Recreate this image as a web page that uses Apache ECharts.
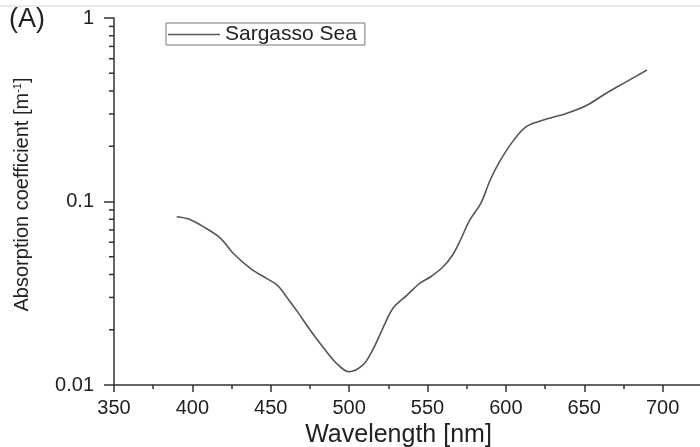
<!DOCTYPE html>
<html>
<head>
<meta charset="utf-8">
<script src="https://cdn.jsdelivr.net/npm/echarts@6/dist/echarts.min.js"></script>
<style>html,body{margin:0;padding:0;background:#fff}#c{width:700px;height:447px}</style>
</head>
<body>
<div id="c"></div>
<script>
var seriesName = 'Sargasso Sea';
var wavelength = [390, 398, 407, 418, 426, 437, 447, 454, 460, 467, 475, 484, 492, 500, 509, 515, 522, 528, 537, 545, 552, 560, 566, 571, 577, 584, 590, 596, 605, 613, 624, 639, 652, 664, 677, 690];
var absorption = [0.0826, 0.080, 0.0729, 0.0630, 0.0522, 0.0432, 0.0382, 0.0351, 0.0303, 0.0251, 0.0200, 0.0158, 0.0131, 0.0118, 0.0129, 0.0155, 0.0208, 0.0262, 0.0309, 0.0358, 0.0389, 0.0441, 0.0511, 0.0617, 0.0793, 0.0977, 0.131, 0.165, 0.216, 0.256, 0.278, 0.303, 0.336, 0.389, 0.450, 0.521];
var yMinorTickValues = [0.02, 0.03, 0.04, 0.05, 0.06, 0.07, 0.08, 0.09, 0.2, 0.3, 0.4, 0.5, 0.6, 0.7, 0.8, 0.9];
var xMin = 350, xMax = 750, xInterval = 50;
var yMin = 0.01, yMax = 1;

var FONT = 'Liberation Sans, Arial, sans-serif';
var lineData = wavelength.map(function (w, i) { return [w, absorption[i]]; });
var minorData = yMinorTickValues.map(function (v) { return [xMin, v]; });

var chart = echarts.init(document.getElementById('c'));
chart.setOption({
  animation: false,
  backgroundColor: '#fff',
  grid: { left: 114, top: 18, bottom: 62, right: -41, containLabel: false, outerBoundsMode: 'none' },
  legend: {
    data: [seriesName],
    left: 166, top: 23,
    padding: [1, 8, 0, 2],
    icon: 'rect',
    itemWidth: 52, itemHeight: 1.5,
    borderColor: '#777', borderWidth: 1,
    textStyle: { fontFamily: FONT, fontSize: 21, color: '#222' }
  },
  xAxis: {
    type: 'value', min: xMin, max: xMax, interval: xInterval,
    name: 'Wavelength [nm]', nameLocation: 'middle', nameGap: 34,
    nameTextStyle: { fontFamily: FONT, fontSize: 25, color: '#222', padding: [0, 58, 0, 0] },
    axisLine: { lineStyle: { color: '#333', width: 1.5 } },
    axisTick: { length: 7, lineStyle: { color: '#333', width: 1.5 } },
    minorTick: { show: true, splitNumber: 2, length: 4, lineStyle: { color: '#333', width: 1.5 } },
    axisLabel: { fontFamily: FONT, fontSize: 20, color: '#222', margin: 13, showMaxLabel: false },
    splitLine: { show: false }
  },
  yAxis: {
    type: 'log', logBase: 10, min: yMin, max: yMax,
    name: 'Absorption coefficient [m{sup|-1}]', nameLocation: 'middle', nameGap: 82, nameRotate: 90,
    nameTextStyle: { fontFamily: FONT, fontSize: 20, color: '#222', padding: [0, 0, 0, 14],
      rich: { sup: { fontFamily: FONT, fontSize: 11, color: '#222', verticalAlign: 'top' } } },
    axisLine: { show: true, lineStyle: { color: '#333', width: 1.5 } },
    axisTick: { show: true, length: 10, lineStyle: { color: '#333', width: 1.5 } },
    axisLabel: { fontFamily: FONT, fontSize: 20, color: '#222', margin: 20 },
    splitLine: { show: false }
  },
  graphic: [{
    type: 'line', shape: { x1: 0, y1: 6, x2: 700, y2: 6 },
    style: { stroke: '#d0d0d0', lineWidth: 1 }, silent: true
  }, {
    type: 'text', left: 9, top: 6,
    style: { text: '(A)', fontFamily: FONT, fontSize: 27, fill: '#222' }
  }],
  series: [{
    name: seriesName, type: 'line', data: lineData,
    smooth: 0.35, symbol: 'none', showSymbol: false,
    lineStyle: { color: '#555', width: 1.6 }, itemStyle: { color: '#555' }
  }, {
    name: 'minorTicks', type: 'custom', data: minorData, silent: true, clip: false,
    renderItem: function (params, api) {
      var p = api.coord([api.value(0), api.value(1)]);
      return { type: 'line', shape: { x1: p[0] - 5, y1: p[1], x2: p[0], y2: p[1] },
        style: { stroke: '#333', lineWidth: 1.5 } };
    }
  }]
});
</script>
</body>
</html>
